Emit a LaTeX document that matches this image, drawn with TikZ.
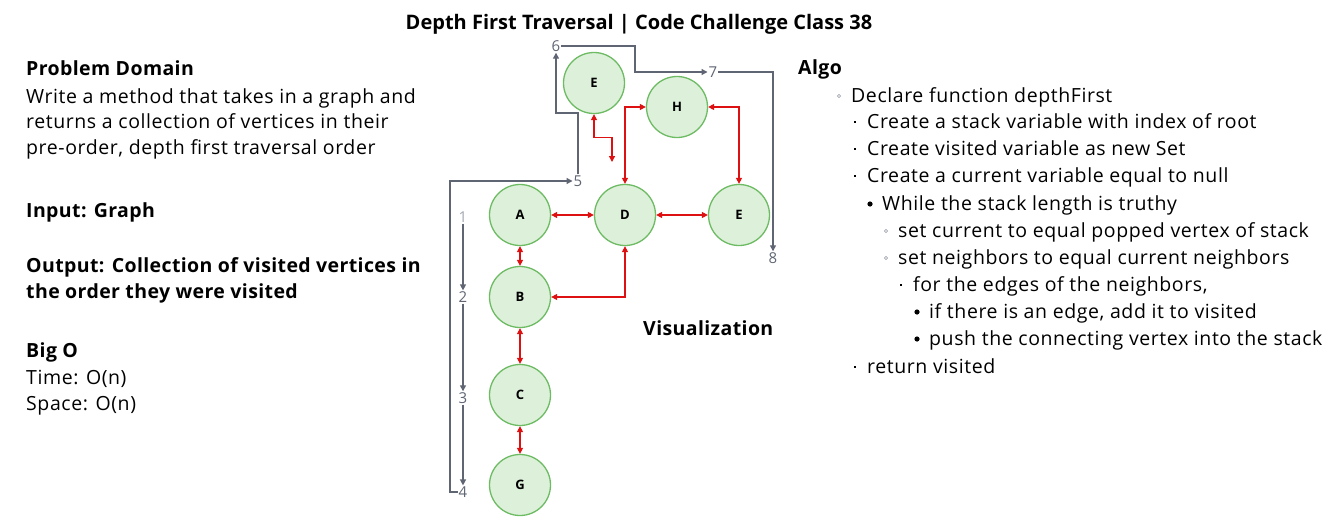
\documentclass[tikz,border=0pt]{standalone}
\usepackage{fontspec}
\setmainfont{Open Sans}
\usepackage{tikz}
\usetikzlibrary{positioning, arrows.meta}
\definecolor{colorV}{HTML}{DDF0DA}
\definecolor{colorVB}{HTML}{6DBB63}
\definecolor{colorR}{HTML}{DD1111}
\definecolor{colorS}{HTML}{5F6573}
\definecolor{colorSL}{HTML}{A3A8B2}

\begin{document}
\begin{tikzpicture}[x=1pt,y=-1pt,
    vertex/.style={circle,draw=colorVB,line width=1.3pt,fill=colorV,minimum size=61pt,inner sep=0pt,font=\fontsize{13}{13}\selectfont\bfseries},
    rline/.style={colorR,line width=1.3pt,{Triangle[length=6pt,width=6pt]}-{Triangle[length=6pt,width=6pt]}},
    sline/.style={colorS,line width=1.3pt,-{Triangle[length=6pt,width=6pt]}},
    num/.style={colorS,inner sep=1pt,font=\fontsize{15}{15}\selectfont},
    txt/.style={anchor=base west,inner sep=0pt,font=\fontsize{19.5}{19.5}\selectfont\addfontfeature{LetterSpace=3}},
    hd/.style={txt,font=\fontsize{19.5}{19.5}\selectfont\bfseries\addfontfeature{LetterSpace=2}}]
    \useasboundingbox (0,0) rectangle (1344,530);
    \node[anchor=base,inner sep=0pt,font=\fontsize{20}{20}\selectfont\bfseries] (title) at (639,29) {Depth First Traversal | Code Challenge Class 38};
    \node[hd] (pd) at (26,75) {Problem Domain};
    \node[txt] (pd1) at (26,103) {Write a method that takes in a graph and};
    \node[txt] (pd2) at (26,128) {returns a collection of vertices in their};
    \node[txt] (pd3) at (26,154) {pre-order, depth first traversal order};
    \node[hd] (in) at (26,217) {Input: Graph};
    \node[hd] (out1) at (26,272) {Output: Collection of visited vertices in};
    \node[hd] (out2) at (26,298) {the order they were visited};
    \node[hd] (bo) at (26,357) {Big O};
    \node[txt] (bo1) at (26,384) {Time: O(n)};
    \node[txt] (bo2) at (26,410) {Space: O(n)};
    \node[hd] (vis) at (643,335) {Visualization};
    \node[vertex] (E1) at (594,83) {E};
    \node[vertex] (H) at (677,107) {H};
    \node[vertex] (A) at (520,215) {A};
    \node[vertex] (D) at (625,215) {D};
    \node[vertex] (E2) at (739,215) {E};
    \node[vertex] (B) at (520,297) {B};
    \node[vertex] (C) at (520,395) {C};
    \node[vertex] (G) at (520,485) {G};
    \coordinate (e1end) at (612,162);
    \draw[rline] (A) -- (D);
    \draw[rline] (D) -- (E2);
    \draw[rline] (A) -- (B);
    \draw[rline] (B) -- (C);
    \draw[rline] (C) -- (G);
    \draw[rline] (D.south) |- (B.east);
    \draw[rline] (D.north) |- (H.west);
    \draw[rline] (H.east) -| (E2.north);
    \draw[rline] (E1.south) -- ++(0,23) -| (e1end);
    \node[num,colorSL] (n1) at (463,217) {1};
    \node[num] (n2) at (463,297) {2};
    \node[num] (n3) at (463,398) {3};
    \node[num] (n4) at (463,492) {4};
    \node[num] (n5) at (578,181) {5};
    \node[num] (n6) at (556,46) {6};
    \node[num] (n7) at (713,72) {7};
    \node[num] (n8) at (773,258) {8};
    \draw[sline] (n1) -- (n2);
    \draw[sline] (n2) -- (n3);
    \draw[sline] (n3) -- (n4);
    \draw[sline] (n4.west) -| (450,181) -- (n5.west);
    \draw[sline] (n5.north) |- (556,113) -- (n6.south);
    \draw[sline] (n6.east) -| (635,72) -- (n7.west);
    \draw[sline] (n7.east) -| (n8.north);
    \node[hd] (algo) at (798,74) {Algo};
    \node[txt] (a1) at (851,102) {Declare function depthFirst};
    \node[txt] (a2) at (867,128) {Create a stack variable with index of root};
    \node[txt] (a3) at (867,155) {Create visited variable as new Set};
    \node[txt] (a4) at (867,182) {Create a current variable equal to null};
    \node[txt] (a5) at (882,210) {While the stack length is truthy};
    \node[txt] (a6) at (898,237) {set current to equal popped vertex of stack};
    \node[txt] (a7) at (898,264) {set neighbors to equal current neighbors};
    \node[txt] (a8) at (913,291) {for the edges of the neighbors,};
    \node[txt] (a9) at (929,318) {if there is an edge, add it to visited};
    \node[txt] (a10) at (929,345) {push the connecting vertex into the stack};
    \node[txt] (a11) at (867,373) {return visited};
    \foreach \p in {a1,a6,a7}
        \draw[colorSL,line width=0.6pt] ([xshift=-12pt,yshift=6pt]\p.base west) circle (1.6pt);
    \foreach \p in {a2,a3,a4,a8,a11}
        \fill ([xshift=-12pt,yshift=6pt]\p.base west) ++(-1.4,-1.4) rectangle ++(2.8,2.8);
    \foreach \p in {a5,a9,a10}
        \fill ([xshift=-12pt,yshift=6pt]\p.base west) circle (2.6pt);
\end{tikzpicture}
\end{document}
